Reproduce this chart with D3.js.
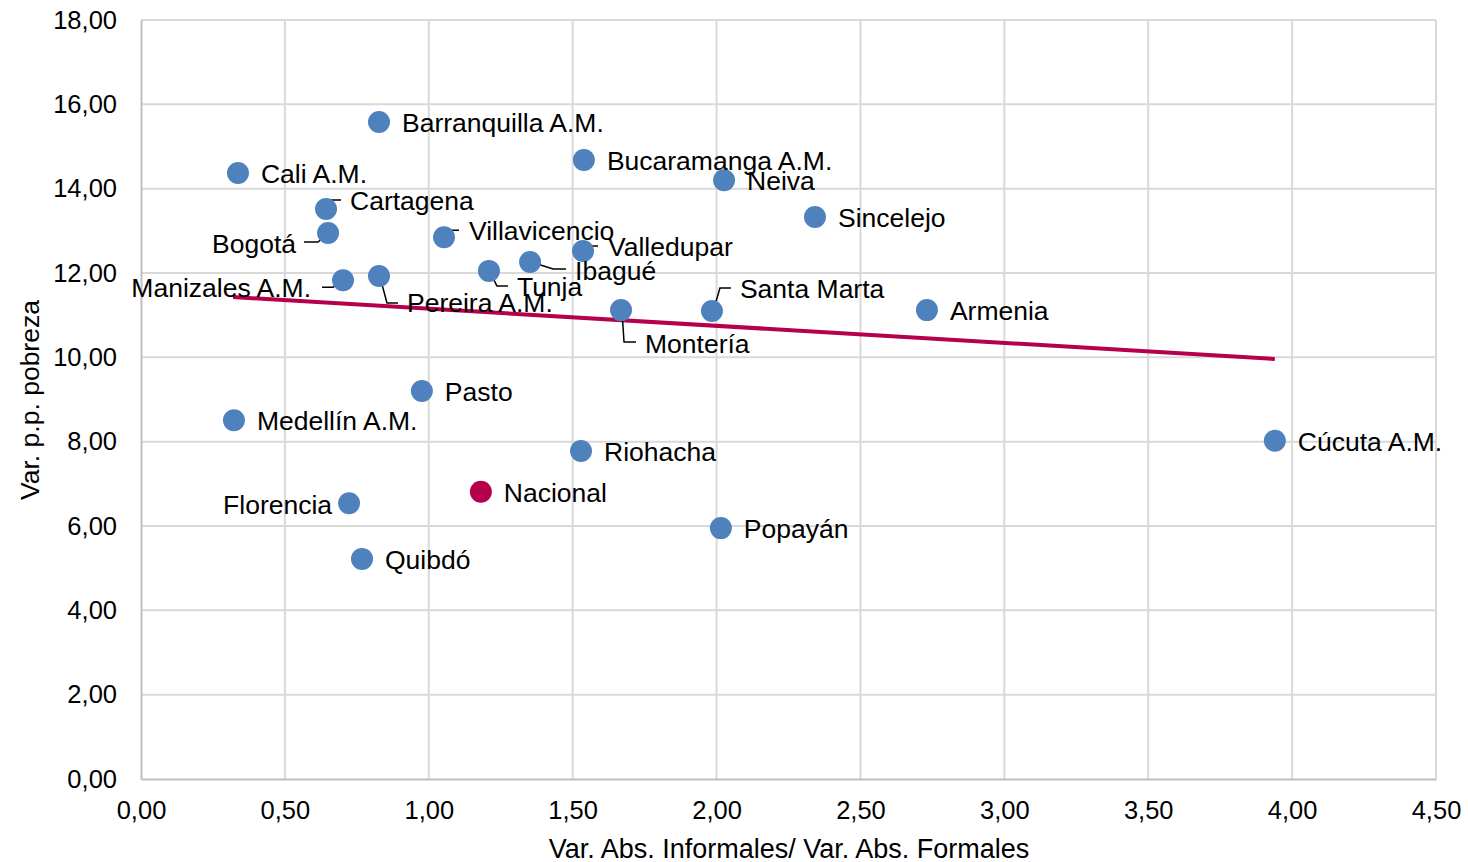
<!DOCTYPE html>
<html>
<head>
<meta charset="utf-8">
<script src="https://cdn.jsdelivr.net/npm/d3@7"></script>
<style>
  body { margin: 0; background: #fff; }
  svg { font-family: "Liberation Sans", Arial, sans-serif; }
</style>
</head>
<body>
<svg width="1468" height="862"></svg>
<script>
// ciudades y valores
var cities = ["Barranquilla A.M.", "Cali A.M.", "Bucaramanga A.M.", "Neiva", "Sincelejo",
  "Cartagena", "Bogotá", "Villavicencio", "Valledupar", "Ibagué", "Tunja",
  "Manizales A.M.", "Pereira A.M.", "Montería", "Santa Marta", "Armenia", "Pasto",
  "Medellín A.M.", "Cúcuta A.M.", "Riohacha", "Nacional", "Florencia", "Popayán", "Quibdó"];
var ratioX = [0.827, 0.337, 1.539, 2.026, 2.342,
  0.643, 0.650, 1.053, 1.536, 1.352, 1.209,
  0.702, 0.827, 1.668, 1.984, 2.731, 0.976,
  0.323, 3.940, 1.529, 1.181, 0.723, 2.015, 0.768];
var povertyY = [15.58, 14.37, 14.68, 14.20, 13.33,
  13.52, 12.95, 12.85, 12.52, 12.26, 12.05,
  11.83, 11.93, 11.12, 11.10, 11.12, 9.20,
  8.51, 8.02, 7.78, 6.81, 6.54, 5.95, 5.22];
var trendX = [0.32, 3.94];
var trendY = [11.43, 9.96];
var xTicks = [0, 0.5, 1, 1.5, 2, 2.5, 3, 3.5, 4, 4.5];
var yTicks = [0, 2, 4, 6, 8, 10, 12, 14, 16, 18];

// posicion de etiquetas: dx, dy (centro del texto), anchor, linea guia
var labelPos = {
  "Cartagena": {dx: 24, dy: -8, lead: [[1, -1], [3, -9], [15, -9]]},
  "Bogotá": {dx: -32, dy: 11, anchor: "end", lead: [[0, 0], [-10, 9], [-24, 9]]},
  "Villavicencio": {dx: 25, dy: -6, lead: [[1, 1], [3, -7], [15, -7]]},
  "Valledupar": {dx: 25, dy: -4, lead: [[1, -1], [3, -5], [15, -5]]},
  "Ibagué": {dx: 45, dy: 9, lead: [[1, 0], [23, 7], [36, 7]]},
  "Tunja": {dx: 28, dy: 16, lead: [[1, 1], [8, 15], [19, 15]]},
  "Manizales A.M.": {dx: -32, dy: 8, anchor: "end", lead: [[0, 0], [-10, 7], [-21, 7]]},
  "Pereira A.M.": {dx: 28, dy: 27, lead: [[1, 1], [8, 27], [19, 27]]},
  "Montería": {dx: 24, dy: 34, lead: [[1, 1], [3, 32], [15, 32]]},
  "Santa Marta": {dx: 28, dy: -22, lead: [[1, 1], [8, -23], [19, -23]]},
  "Florencia": {dx: -17, dy: 2, anchor: "end"}
};

var svg = d3.select("svg");
var x = d3.scaleLinear().domain([0, 4.5]).range([141, 1436]);
var y = d3.scaleLinear().domain([0, 18]).range([779, 20]);
var fmt = function(d) { return d3.format(".2f")(d).replace(".", ","); };

// cuadricula
svg.append("g").selectAll("line.v")
  .data(xTicks.slice(1))
  .enter().append("line")
  .attr("x1", function(d) { return x(d); }).attr("x2", function(d) { return x(d); })
  .attr("y1", y(0)).attr("y2", y(18))
  .attr("stroke", "#d9d9d9").attr("stroke-width", 2);
svg.append("g").selectAll("line.h")
  .data(yTicks.slice(1))
  .enter().append("line")
  .attr("x1", x(0)).attr("x2", x(4.5))
  .attr("y1", function(d) { return y(d); }).attr("y2", function(d) { return y(d); })
  .attr("stroke", "#d9d9d9").attr("stroke-width", 2);

// ejes
var xAxis = svg.append("g").attr("transform", "translate(0," + y(0) + ")")
  .call(d3.axisBottom(x).tickValues(xTicks).tickFormat(fmt).tickSize(0).tickPadding(22));
var yAxis = svg.append("g").attr("transform", "translate(" + x(0) + ",0)")
  .call(d3.axisLeft(y).tickValues(yTicks).tickFormat(fmt).tickSize(0).tickPadding(24));
[xAxis, yAxis].forEach(function(a) {
  a.select(".domain").attr("stroke", "#bfbfbf").attr("stroke-width", 2);
  a.selectAll("text").attr("font-size", 25.5).attr("fill", "#000")
    .style("font-family", "'Liberation Sans', Arial, sans-serif");
});

svg.append("text")
  .attr("transform", "translate(39,400) rotate(-90)")
  .attr("text-anchor", "middle")
  .attr("font-size", 26.5)
  .text("Var. p.p. pobreza");
svg.append("text")
  .attr("x", 789).attr("y", 858)
  .attr("text-anchor", "middle")
  .attr("font-size", 27)
  .text("Var. Abs. Informales/ Var. Abs. Formales");

// linea de tendencia
svg.append("line")
  .attr("x1", x(trendX[0])).attr("y1", y(trendY[0]))
  .attr("x2", x(trendX[1])).attr("y2", y(trendY[1]))
  .attr("stroke", "#b5004b").attr("stroke-width", 4);

var pts = cities.map(function(c, i) { return {name: c, x: ratioX[i], y: povertyY[i]}; });

// lineas guia
svg.append("g").selectAll("path")
  .data(pts.filter(function(d) { return labelPos[d.name] && labelPos[d.name].lead; }))
  .enter().append("path")
  .attr("d", function(d) {
    var cx = x(d.x), cy = y(d.y);
    return "M" + labelPos[d.name].lead.map(function(p) { return (cx + p[0]) + "," + (cy + p[1]); }).join("L");
  })
  .attr("fill", "none").attr("stroke", "#000").attr("stroke-width", 1.5);

svg.append("g").selectAll("circle")
  .data(pts)
  .enter().append("circle")
  .attr("cx", function(d) { return x(d.x); })
  .attr("cy", function(d) { return y(d.y); })
  .attr("r", 11)
  .attr("fill", function(d) { return d.name == "Nacional" ? "#b5004b" : "#4f81bd"; });

svg.append("g").selectAll("text")
  .data(pts)
  .enter().append("text")
  .attr("x", function(d) { var p = labelPos[d.name]; return x(d.x) + (p ? p.dx : 23); })
  .attr("y", function(d) { var p = labelPos[d.name]; return y(d.y) + (p ? p.dy : 1) + 9; })
  .attr("text-anchor", function(d) { var p = labelPos[d.name]; return p && p.anchor ? p.anchor : "start"; })
  .attr("font-size", 26.5)
  .text(function(d) { return d.name; });
</script>
</body>
</html>
